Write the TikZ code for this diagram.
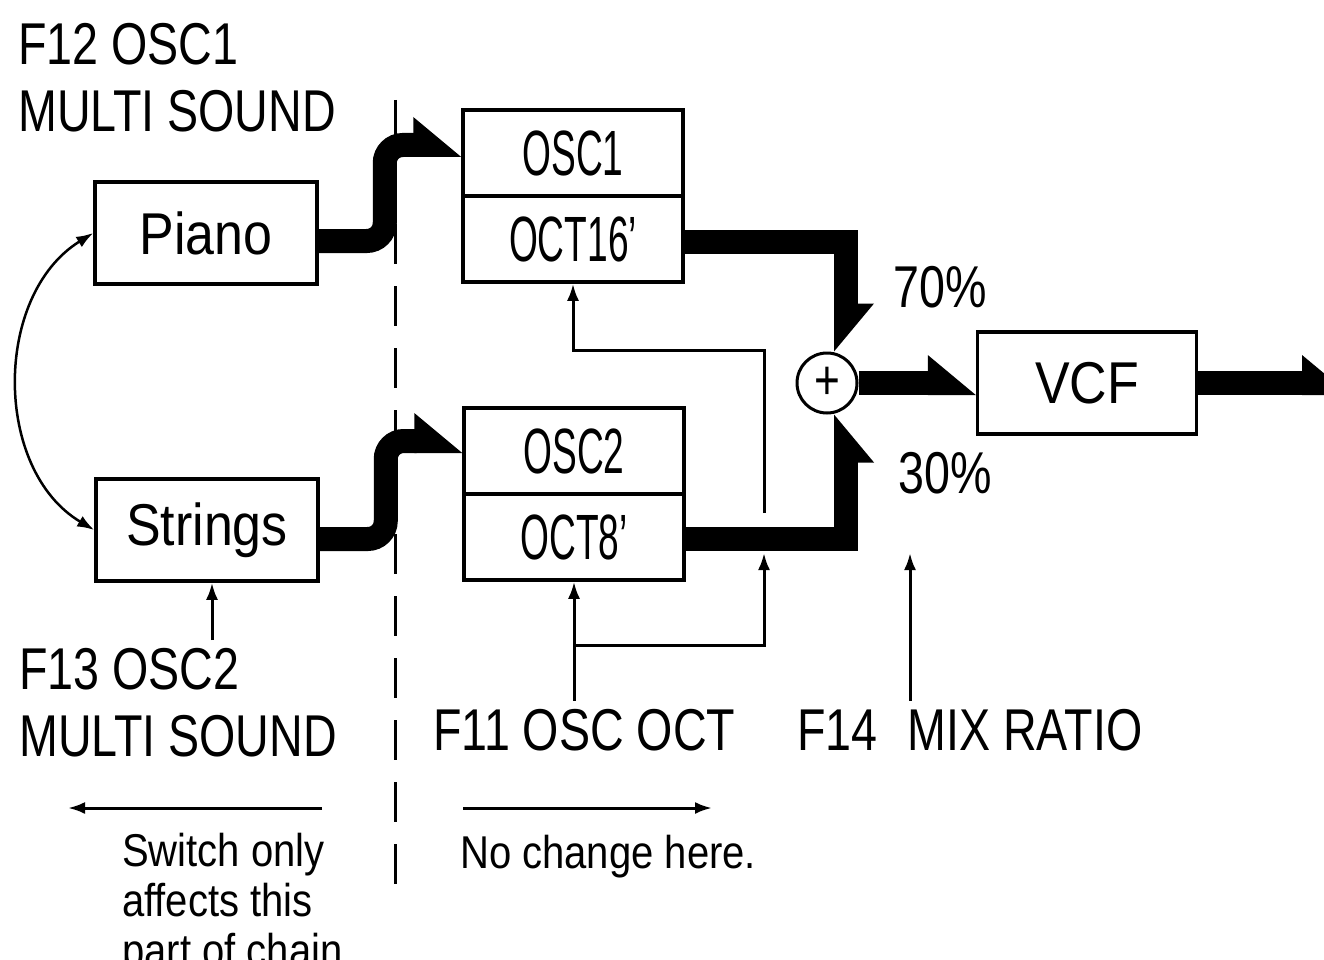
\documentclass[tikz,border=0pt]{standalone}
\usepackage{fontspec}
\setmainfont{Liberation Sans}[FakeStretch=0.79]
\newfontfamily\cellfont{Liberation Sans}[FakeStretch=0.58]
\newfontfamily\boxfont{Liberation Sans}[FakeStretch=0.88]
\newfontfamily\notefont{Liberation Sans}[FakeStretch=0.87]
\usetikzlibrary{arrows.meta,positioning}

\newcommand\flowhalf{12pt}
% half arrow head: flat side on the right of the path
\pgfdeclarearrow{
  name = Wedge,
  parameters = {\the\pgfarrowlength,\the\pgfarrowwidth},
  setup code = {
    \pgfarrowssettipend{0pt}
    \pgfarrowssetlineend{-.95\pgfarrowlength}
    \pgfarrowssetbackend{-\pgfarrowlength}
    \pgfarrowssavethe\pgfarrowlength
    \pgfarrowssavethe\pgfarrowwidth
  },
  drawing code = {
    \pgfpathmoveto{\pgfpoint{0pt}{-\flowhalf}}
    \pgfpathlineto{\pgfpoint{-\pgfarrowlength}{\pgfarrowwidth}}
    \pgfpathlineto{\pgfpoint{-\pgfarrowlength}{-\flowhalf}}
    \pgfpathclose
    \pgfusepathqfill
  },
  defaults = {length = 48pt, width = 28pt}
}
% same, flat side on the left
\pgfdeclarearrow{
  name = WedgeL,
  parameters = {\the\pgfarrowlength,\the\pgfarrowwidth},
  setup code = {
    \pgfarrowssettipend{0pt}
    \pgfarrowssetlineend{-.95\pgfarrowlength}
    \pgfarrowssetbackend{-\pgfarrowlength}
    \pgfarrowssavethe\pgfarrowlength
    \pgfarrowssavethe\pgfarrowwidth
  },
  drawing code = {
    \pgfpathmoveto{\pgfpoint{0pt}{\flowhalf}}
    \pgfpathlineto{\pgfpoint{-\pgfarrowlength}{-\pgfarrowwidth}}
    \pgfpathlineto{\pgfpoint{-\pgfarrowlength}{\flowhalf}}
    \pgfpathclose
    \pgfusepathqfill
  },
  defaults = {length = 48pt, width = 28pt}
}

\begin{document}
\begin{tikzpicture}[
  x=1pt, y=-1pt,
  blk/.style={draw, line width=3.5pt, inner sep=0pt, minimum width=222pt, minimum height=102pt, font=\boxfont\fontsize{59}{59}\selectfont},
  cell/.style={draw, line width=3.5pt, inner sep=0pt, minimum width=220pt, minimum height=86pt, font=\cellfont\fontsize{64}{64}\selectfont},
  lbl/.style={inner sep=0pt, align=left, font=\fontsize{59}{67}\selectfont},
  note/.style={inner sep=0pt, align=left, font=\notefont\fontsize{46}{50}\selectfont},
  flow/.style={line width=24pt, -{Wedge}},
  flowup/.style={line width=24pt, -{WedgeL}},
  ctrl/.style={line width=3pt, -{Latex[length=17pt,width=12pt]}}
]
\useasboundingbox (0,0) rectangle (1324,960);

% sound sources
\node[blk] (piano) at (206,233) {Piano};
\node[blk] (strings) at (207,530) {Strings};
\node[lbl, anchor=north west] (f12) at (18,23) {F12 OSC1\\MULTI SOUND};
\node[lbl, anchor=north west] (f13) at (19,648) {F13 OSC2\\MULTI SOUND};

% oscillators
\node[cell] (osc1) at (573,153) {OSC1};
\node[cell, below=-3.5pt of osc1] (oct1) {OCT16’};
\node[cell] (osc2) at (574,451) {OSC2};
\node[cell, below=-3.5pt of osc2] (oct2) {OCT8’};

% mixer and filter
\node[draw, circle, line width=3pt, minimum size=60pt, inner sep=0pt, font=\fontsize{56}{56}\selectfont] (mix) at (827,383) {+};
\node[blk, minimum width=219pt] (vcf) at (1087,383) {VCF};
\coordinate (out) at (1350,383);

% labels
\node[lbl, anchor=base west] (f11) at (433,750) {F11 OSC OCT};
\node[lbl, anchor=base west] (f14) at (797,750) {F14\hspace{30pt}MIX RATIO};
\node[lbl, anchor=base west] (r70) at (893,307) {70\%};
\node[lbl, anchor=base west] (r30) at (898,493) {30\%};
\node[note, anchor=north west] (sw) at (122,833) {Switch only\\affects this\\part of chain.};
\node[note, anchor=base west] (nc) at (460,868) {No change here.};

% divider
\coordinate (divtop) at (395,100);
\coordinate (divbot) at (395,905);
\draw[line width=3pt, dash pattern=on 40pt off 22pt] (divtop) -- (divbot);

% audio path
\draw[flow, rounded corners=18pt] ([yshift=-8pt]piano.east) -- ++(66,0) |- ([yshift=8pt]osc1.west);
\draw[flow, rounded corners=18pt] ([yshift=-9pt]strings.east) -- ++(66,0) |- ([yshift=10pt]osc2.west);
\draw[flow] ([yshift=-3pt]oct1.east) -| ([xshift=19pt]mix.north);
\draw[flowup] ([yshift=-2pt]oct2.east) -| ([xshift=19pt]mix.south);
\draw[flow] (mix) -- (vcf);
\draw[flow] (vcf) -- (out);

% octave control
\coordinate (split) at (574,645);
\coordinate (under) at (764,513);
\coordinate (cross) at (764,553);
\draw[ctrl] ([yshift=8pt]f11.north -| oct2.south) -- (oct2.south);
\draw[ctrl] (split) -| (cross);
\draw[ctrl] (under) |- (oct1.south |- 0,350) -- (oct1.south);

% mix ratio
\coordinate (ratio) at (910,553);
\draw[ctrl] ([yshift=8pt]f14.north -| ratio) -- (ratio);

% sound switch
\draw[ctrl] ([xshift=5pt,yshift=8pt]f13.north -| strings.south) -- ([xshift=5pt]strings.south);
\draw[line width=2.5pt, {Latex[length=17pt,width=12pt]}-{Latex[length=17pt,width=12pt]}] (piano.west) .. controls (-7,295) and (-7,470) .. (strings.west);

% ranges
\coordinate (swfrom) at (322,808);
\coordinate (swto) at (68,808);
\coordinate (ncfrom) at (463,808);
\coordinate (ncto) at (712,808);
\draw[ctrl] (swfrom) -- (swto);
\draw[ctrl] (ncfrom) -- (ncto);
\end{tikzpicture}
\end{document}
